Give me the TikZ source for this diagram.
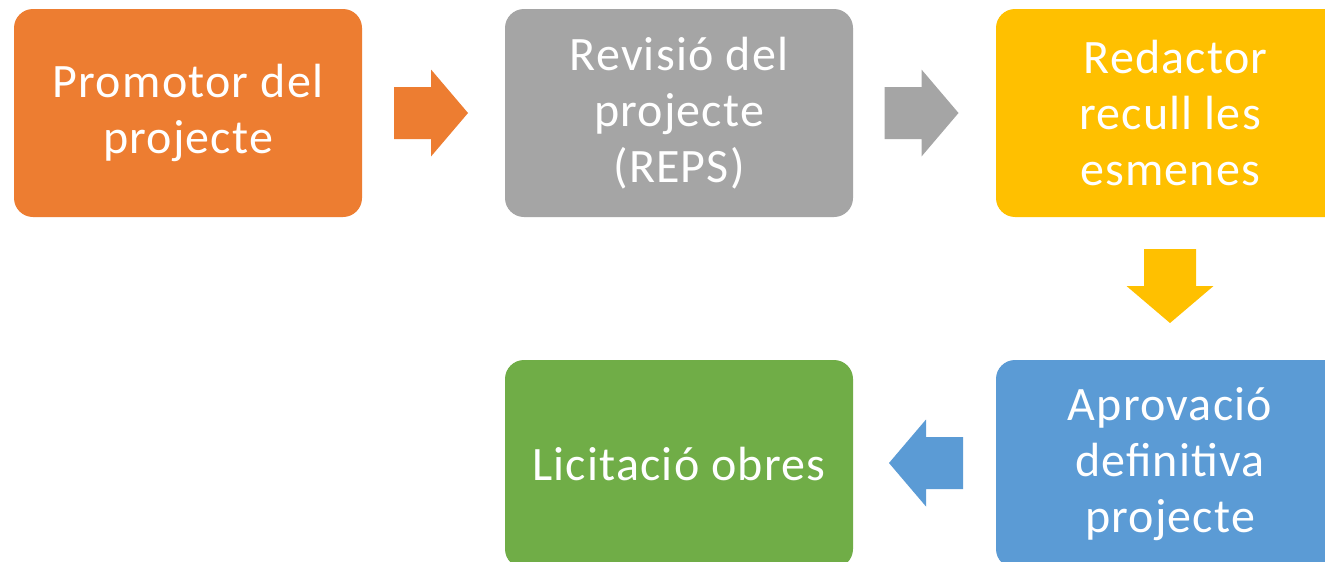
\documentclass[tikz,border=0pt]{standalone}
\usepackage{fontspec}
\setmainfont{Carlito}[LetterSpace=2.5]
\definecolor{cOrange}{HTML}{ED7D31}
\definecolor{cGray}{HTML}{A5A5A5}
\definecolor{cYellow}{HTML}{FFC000}
\definecolor{cBlue}{HTML}{5B9BD5}
\definecolor{cGreen}{HTML}{70AD47}
\tikzset{
  stepbox/.style={rectangle, rounded corners=19pt, minimum width=348pt, minimum height=208pt,
    inner sep=0pt, align=center, text=white, font=\fontsize{48}{56}\selectfont},
  barrow/.pic={\fill (-37,-26) -- (0,-26) -- (0,-43.5) -- (37,0) -- (0,43.5) -- (0,26) -- (-37,26) -- cycle;}
}
\begin{document}
\begin{tikzpicture}[x=1pt,y=1pt]
\clip (0,0) rectangle (1325,-562);
\fill[white] (0,0) rectangle (1325,-562);
\node[stepbox, fill=cOrange] (promotor) at (188,-113) {Promotor del\\projecte};
\node[stepbox, fill=cGray] (revisio) at (679,-113) {Revisió del\\projecte\\(REPS)};
\node[stepbox, fill=cYellow] (redactor) at (1170,-113) {\hspace*{11pt}Redactor\\recull les\\esmenes};
\node[stepbox, fill=cBlue] (aprovacio) at (1170,-464) {Aprovació\\definitiva\\projecte};
\node[stepbox, fill=cGreen] (licitacio) at (679,-464) {Licitació obres};
\pic[cOrange] at (431,-113) {barrow};
\pic[cGray] at (921.5,-113) {barrow};
\pic[cYellow, rotate=-90] at (1170,-286) {barrow};
\pic[cBlue, rotate=180] at (926,-463) {barrow};
\end{tikzpicture}
\end{document}
